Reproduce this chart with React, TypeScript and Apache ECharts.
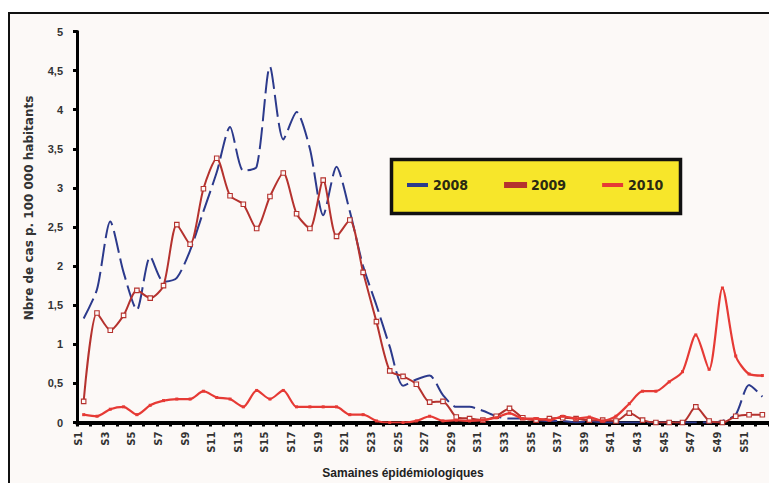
import React, { useEffect, useRef } from "react";
import * as echarts from "echarts";

const weeks = [
  "S1", "S2", "S3", "S4", "S5", "S6", "S7", "S8", "S9", "S10",
  "S11", "S12", "S13", "S14", "S15", "S16", "S17", "S18", "S19", "S20",
  "S21", "S22", "S23", "S24", "S25", "S26", "S27", "S28", "S29", "S30",
  "S31", "S32", "S33", "S34", "S35", "S36", "S37", "S38", "S39", "S40",
  "S41", "S42", "S43", "S44", "S45", "S46", "S47", "S48", "S49", "S50",
  "S51", "S52",
];

const values2008 = [
  1.33, 1.7, 2.57, 1.92, 1.44, 2.12, 1.8, 1.85, 2.2, 2.7,
  3.2, 3.78, 3.22, 3.27, 4.55, 3.62, 3.97, 3.5, 2.65, 3.27,
  2.7, 2.0, 1.5, 0.97, 0.47, 0.55, 0.6, 0.35, 0.2, 0.2,
  0.15, 0.08, 0.05, 0.05, 0.03, 0.02, 0.02, 0.0, 0.02, 0.0,
  0.0, 0.0, 0.0, 0.0, 0.0, 0.0, 0.0, 0.0, 0.02, 0.1,
  0.48, 0.33,
];

const values2009 = [
  0.27, 1.4, 1.18, 1.37, 1.69, 1.59, 1.75, 2.53, 2.28, 2.99,
  3.38, 2.9, 2.79, 2.48, 2.89, 3.19, 2.67, 2.48, 3.1, 2.38,
  2.59, 1.92, 1.29, 0.66, 0.59, 0.49, 0.26, 0.27, 0.07, 0.05,
  0.03, 0.08, 0.18, 0.06, 0.03, 0.05, 0.06, 0.05, 0.03, 0.03,
  0.02, 0.12, 0.03, 0.0, 0.0, 0.0, 0.2, 0.02, 0.0, 0.08,
  0.1, 0.1,
];

const values2010 = [
  0.1, 0.08, 0.17, 0.2, 0.1, 0.22, 0.28, 0.3, 0.3, 0.4,
  0.32, 0.3, 0.2, 0.41, 0.3, 0.41, 0.2, 0.2, 0.2, 0.2,
  0.1, 0.1, 0.02, 0.0, 0.0, 0.02, 0.08, 0.02, 0.03, 0.02,
  0.03, 0.06, 0.12, 0.05, 0.05, 0.03, 0.08, 0.05, 0.07, 0.02,
  0.08, 0.24, 0.4, 0.4, 0.52, 0.65, 1.12, 0.68, 1.72, 0.85,
  0.62, 0.6,
];

const seriesNames = ["2008", "2009", "2010"];
const yTitle = "Nbre de cas p. 100 000 habitants";
const xTitle = "Samaines épidémiologiques";

const C2008 = "#2c3a8c";
const C2009 = "#b5322e";
const C2010 = "#e63a35";
const BG = "#fcf9f7";

export default function App() {
  const ref = useRef<HTMLDivElement>(null);

  useEffect(() => {
    if (!ref.current) return;
    const chart = echarts.init(ref.current, undefined, { renderer: "svg" });
    const option: any = {
      animation: false,
      backgroundColor: "transparent",
      graphic: [
        {
          type: "rect",
          z: 5,
          shape: { x: 391.5, y: 159.5, width: 289, height: 54 },
          style: { fill: "#f7e62a", stroke: "#111", lineWidth: 3.5 },
          silent: true,
        },
        {
          type: "text",
          z: 5,
          x: 29,
          y: 208,
          rotation: Math.PI / 2,
          style: {
            text: yTitle,
            fontFamily: "DejaVu Sans",
            fontWeight: "bold",
            fontSize: 12,
            fill: "#333",
            align: "center",
            verticalAlign: "middle",
          },
        },
        {
          type: "text",
          z: 5,
          x: 403,
          y: 473,
          style: {
            text: xTitle,
            fontFamily: "Liberation Sans",
            fontWeight: "bold",
            fontSize: 12,
            fill: "#222",
            align: "center",
            verticalAlign: "middle",
          },
        },
      ],
      grid: { left: 77, top: 31.5, width: 694, height: 391 },
      legend: {
        left: 407,
        top: 178,
        padding: 0,
        itemGap: 36,
        itemWidth: 21,
        itemHeight: 4,
        z: 10,
        textStyle: {
          fontFamily: "'Liberation Sans Narrow', 'DejaVu Sans Condensed', sans-serif",
          fontWeight: "bold",
          fontSize: 14,
          color: "#2a2a12",
        },
        data: [
          { name: seriesNames[0], icon: "rect", itemStyle: { color: C2008 } },
          { name: seriesNames[1], icon: "rect", itemStyle: { color: C2009 } },
          { name: seriesNames[2], icon: "rect", itemStyle: { color: C2010 } },
        ],
      },
      xAxis: {
        type: "category",
        data: weeks,
        boundaryGap: true,
        axisLine: { lineStyle: { color: "#000", width: 4 } },
        axisTick: { show: true, interval: 0, length: 4, lineStyle: { color: "#000", width: 3 } },
        axisLabel: {
          interval: 1,
          rotate: 90,
          margin: 9,
          verticalAlign: "bottom",
          fontFamily: "DejaVu Sans",
          fontWeight: "bold",
          fontSize: 10,
          color: "#333",
        },
        splitLine: { show: false },
      },
      yAxis: {
        type: "value",
        min: 0,
        max: 5,
        interval: 0.5,
        axisLine: { show: true, lineStyle: { color: "#000", width: 3 } },
        axisTick: { show: true, length: 4, lineStyle: { color: "#000", width: 3 } },
        splitLine: { show: false },
        axisLabel: {
          margin: 14,
          fontFamily: "Liberation Sans",
          fontWeight: "bold",
          fontSize: 11,
          color: "#333",
          formatter: (v: number) => String(v).replace(".", ","),
        },
      },
      series: [
        {
          name: seriesNames[0],
          type: "line",
          data: values2008,
          symbol: "none",
          smooth: 0.25,
          z: 3,
          itemStyle: { color: C2008 },
          lineStyle: { color: C2008, width: 2, type: [22, 6] },
        },
        {
          name: seriesNames[1],
          type: "line",
          data: values2009,
          symbol: "rect",
          symbolSize: 4.5,
          smooth: 0.25,
          z: 4,
          itemStyle: { color: BG, borderColor: C2009, borderWidth: 1.1 },
          lineStyle: { color: C2009, width: 2 },
        },
        {
          name: seriesNames[2],
          type: "line",
          data: values2010,
          symbol: "rect",
          symbolSize: 3,
          smooth: 0.25,
          z: 5,
          itemStyle: { color: C2010 },
          lineStyle: { color: C2010, width: 2.2 },
        },
      ],
    };
    chart.setOption(option);
    return () => chart.dispose();
  }, []);

  return (
    <div style={{ position: "fixed", left: 0, top: 0, width: 769, height: 483, background: "#fff", overflow: "hidden" }}>
      <div
        style={{
          position: "absolute",
          left: 8,
          top: 12,
          width: 800,
          height: 500,
          border: "2px solid #111",
          background: BG,
          boxSizing: "border-box",
        }}
      />
      <div ref={ref} style={{ position: "absolute", left: 0, top: 0, width: 769, height: 483 }} />
    </div>
  );
}
